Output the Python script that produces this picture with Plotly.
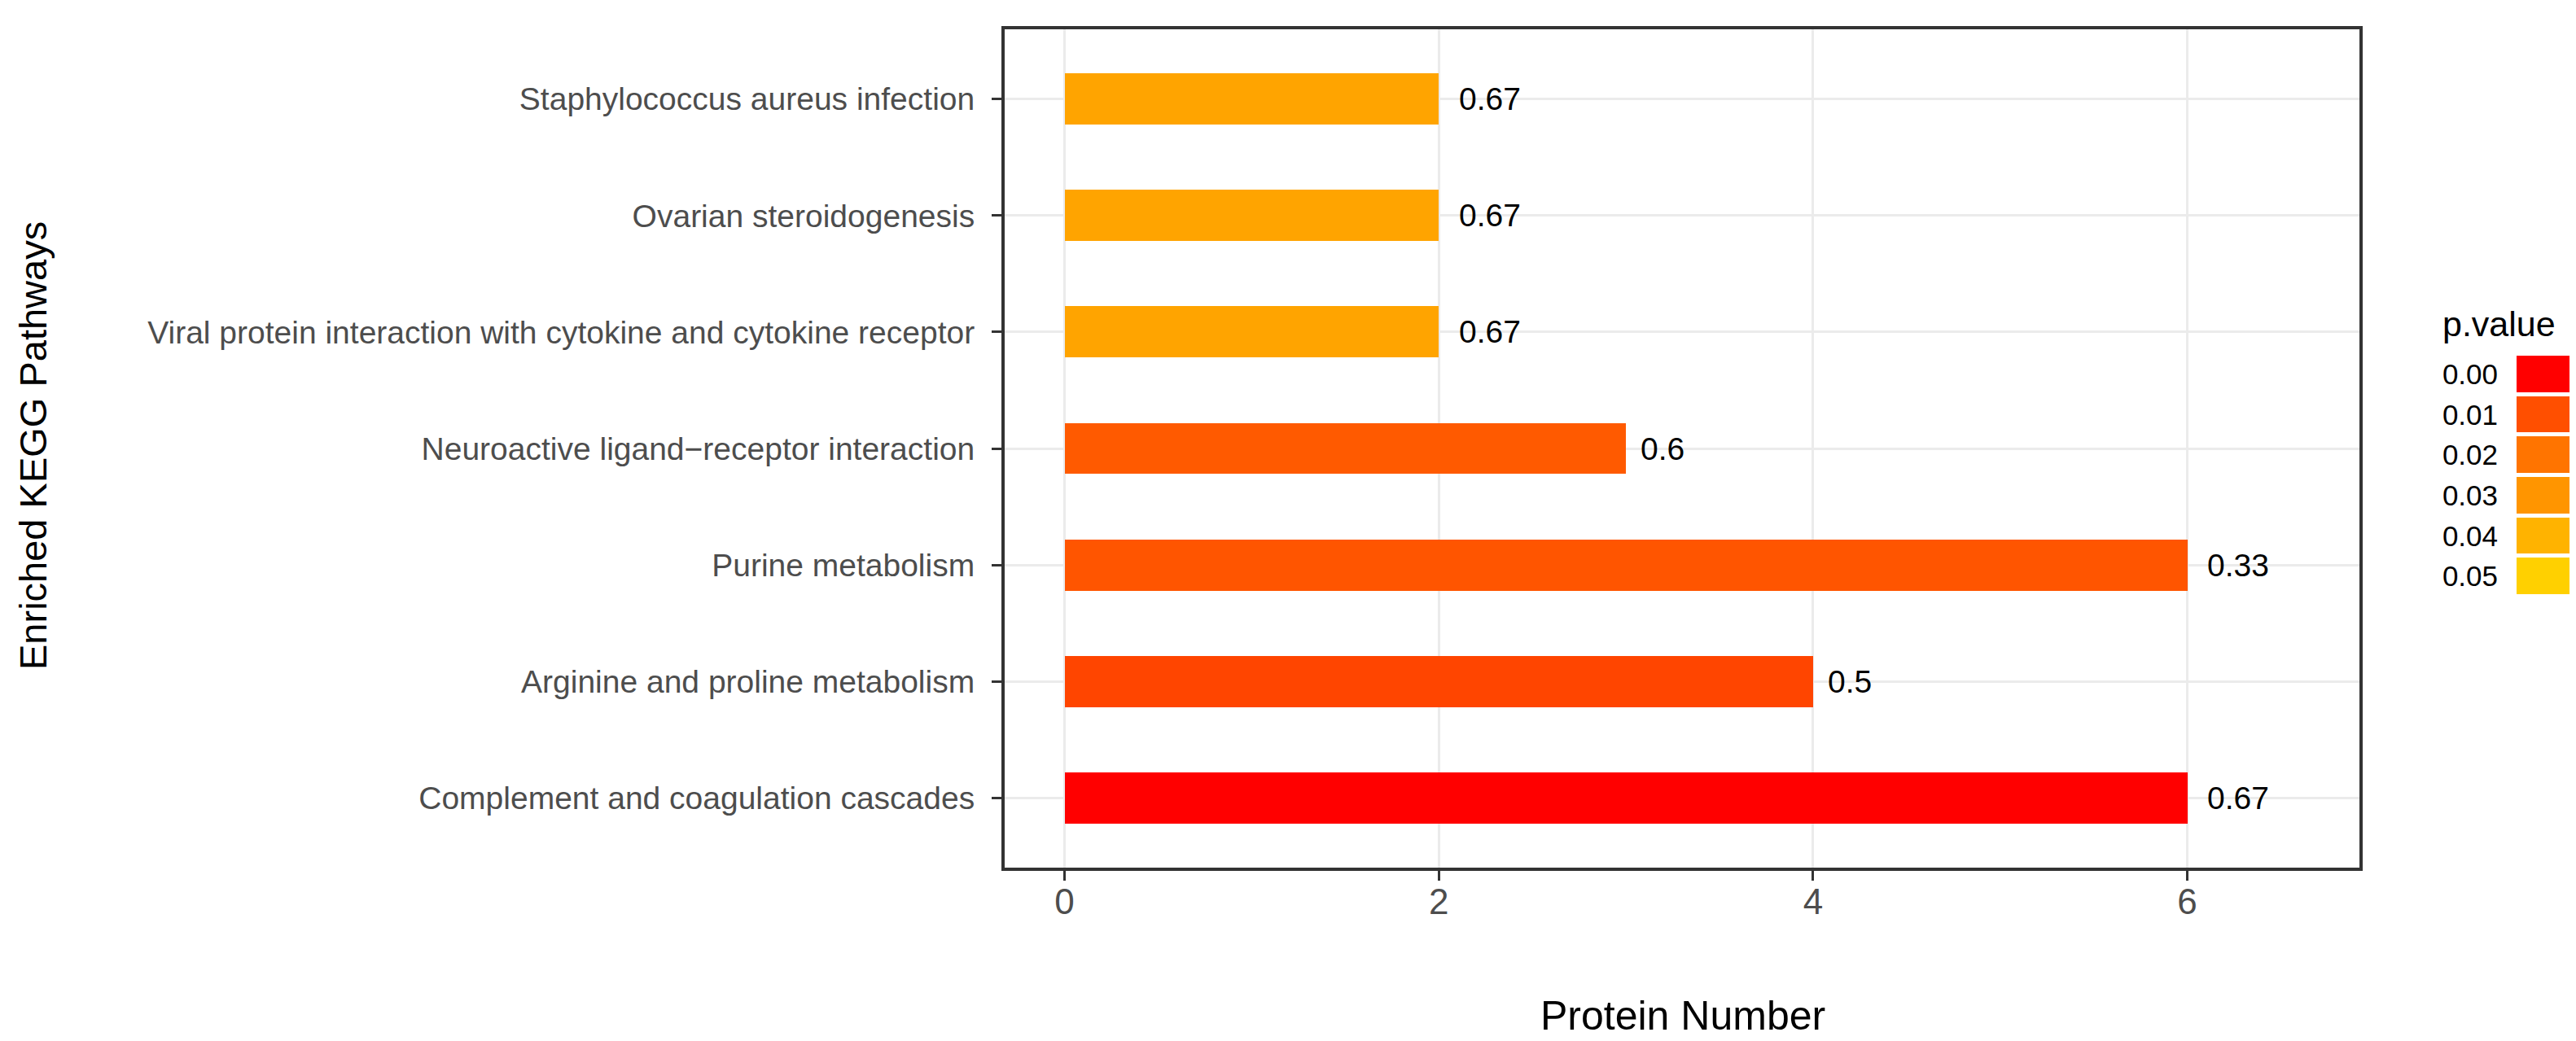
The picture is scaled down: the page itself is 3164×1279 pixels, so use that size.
import plotly.graph_objects as go

# ---- data (top to bottom as shown) ----
pathways = [
    "Staphylococcus aureus infection",
    "Ovarian steroidogenesis",
    "Viral protein interaction with cytokine and cytokine receptor",
    "Neuroactive ligand\u2212receptor interaction",
    "Purine metabolism",
    "Arginine and proline metabolism",
    "Complement and coagulation cascades",
]
protein_number = [2, 2, 2, 3, 6, 4, 6]
ratio_labels = ["0.67", "0.67", "0.67", "0.6", "0.33", "0.5", "0.67"]
p_values = [0.035, 0.035, 0.035, 0.013, 0.0115, 0.0087, 0.0]

legend_breaks = [0.00, 0.01, 0.02, 0.03, 0.04, 0.05]
legend_labels = ["0.00", "0.01", "0.02", "0.03", "0.04", "0.05"]
x_ticks = [0, 2, 4, 6]

# ---- styles ----
W, H = 3164, 1279
FONT = "Liberation Sans, Arial, sans-serif"
colorscale = [[0.0, "#FF0000"], [0.2, "#FF4F00"], [0.4, "#FF7400"],
              [0.6, "#FF9500"], [0.8, "#FFB300"], [1.0, "#FFD000"]]

def px_x(p):
    return p / W

def px_y(p):
    return 1 - p / H

fig = go.Figure()
fig.add_trace(go.Bar(
    x=protein_number, y=pathways, orientation="h", width=0.44,
    marker=dict(color=p_values, colorscale=colorscale, cmin=0, cmax=0.05,
                line=dict(width=0)),
    showlegend=False, hoverinfo="x+y",
))

# legend swatches as a small heatmap
fig.add_trace(go.Heatmap(
    z=[[v] for v in legend_breaks], y=legend_labels, x=[0],
    colorscale=colorscale, zmin=0, zmax=0.05, showscale=False,
    ygap=5, xaxis="x2", yaxis="y2", hoverinfo="skip",
))

# value labels
char_w = {".": 0.278}
annotations = []
for v, cat, lab in zip(protein_number, pathways, ratio_labels):
    em = sum(char_w.get(c, 0.556) for c in lab)
    annotations.append(dict(
        x=v, y=cat, xref="x", yref="y", text=lab, showarrow=False,
        xanchor="left", yanchor="middle", xshift=0.3 * em * 39,
        font=dict(family=FONT, size=39, color="#000000"),
    ))

annotations += [
    dict(x=px_x(2059), y=px_y(1240), xref="paper", yref="paper",
         text="Protein Number", showarrow=False, xanchor="center", yanchor="middle",
         font=dict(family=FONT, size=50, color="#000000")),
    dict(x=px_x(32), y=px_y(540), xref="paper", yref="paper",
         text="Enriched KEGG Pathways", showarrow=False, textangle=-90,
         xanchor="center", yanchor="middle",
         font=dict(family=FONT, size=47, color="#000000")),
    dict(x=px_x(2990), y=px_y(390), xref="paper", yref="paper",
         text="p.value", showarrow=False, xanchor="left", yanchor="middle",
         font=dict(family=FONT, size=43, color="#000000")),
]

fig.update_layout(
    width=W, height=H,
    margin=dict(l=0, r=0, t=0, b=0, pad=0),
    paper_bgcolor="white", plot_bgcolor="white",
    font=dict(family=FONT),
    bargap=0,
    annotations=annotations,
    xaxis=dict(
        domain=[px_x(1226), px_x(2890)], range=[-0.32, 6.92],
        tickvals=x_ticks, ticktext=[str(t) for t in x_ticks],
        ticks="outside", ticklen=12, tickwidth=3, tickcolor="#333333",
        tickfont=dict(family=FONT, size=44, color="#4D4D4D"),
        ticklabelstandoff=-12,
        showgrid=True, gridcolor="#EBEBEB", gridwidth=3, zeroline=False,
        showline=True, linecolor="#333333", linewidth=4, mirror=True,
        automargin=False, anchor="y",
    ),
    yaxis=dict(
        domain=[px_y(1058), px_y(28)], type="category",
        categoryorder="array", categoryarray=pathways, range=[6.6, -0.6],
        ticks="outside", ticklen=12, tickwidth=3, tickcolor="#333333",
        tickfont=dict(family=FONT, size=39, color="#4D4D4D"),
        ticklabelstandoff=13,
        showgrid=True, gridcolor="#EBEBEB", gridwidth=3, zeroline=False,
        showline=True, linecolor="#333333", linewidth=4, mirror=True,
        automargin=False, anchor="x",
    ),
    xaxis2=dict(domain=[px_x(3083), px_x(3148)], visible=False, anchor="y2",
                fixedrange=True),
    yaxis2=dict(domain=[px_y(725), px_y(427)], type="category",
                categoryorder="array", categoryarray=legend_labels,
                autorange="reversed", anchor="x2",
                ticks="", showgrid=False, zeroline=False, showline=False,
                tickfont=dict(family=FONT, size=35, color="#000000"),
                ticklabelstandoff=22, automargin=False, fixedrange=True),
)

fig.write_html("out.html")
